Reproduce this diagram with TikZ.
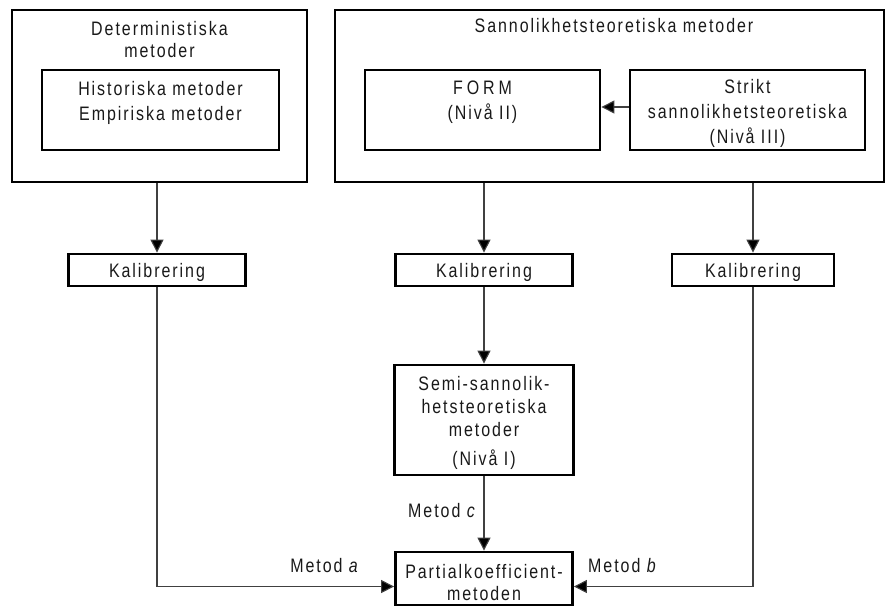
\documentclass[tikz,border=0pt]{standalone}
\usepackage{fontspec}
\setmainfont{Liberation Sans}[FakeStretch=0.82, LetterSpace=10, Ligatures=CommonOff]
\usetikzlibrary{arrows.meta}
\begin{document}
\begin{tikzpicture}[x=1pt,y=-1pt,
  frame/.style={draw=black, line width=2.8pt, inner sep=0pt},
  txt/.style={inner sep=0pt, align=center, text=black!90, font=\fontsize{19.5}{24}\selectfont},
  kal/.style={frame, txt, minimum width=#1, minimum height=32pt, text height=14pt, text depth=0pt},
  conn/.style={line width=1.1pt, draw=black!75, -{Triangle[length=13pt,width=13pt,fill=black]}}
]
\useasboundingbox (0,0) rectangle (888,607);

% left group
\node[frame, minimum width=295pt, minimum height=172pt] (detOuter) at (159.5,96) {};
\node[txt, anchor=north, font=\fontsize{19.5}{22}\selectfont] (detTitle) at (159.5,21) {Deterministiska\\metoder};
\node[frame, minimum width=237pt, minimum height=80pt] (detInner) at (160.5,110) {};
\node[txt, anchor=north, font=\fontsize{19.5}{25}\selectfont] (detText) at (160.5,81) {Historiska metoder\\Empiriska metoder};

% right group
\node[frame, minimum width=549pt, minimum height=172pt] (sanOuter) at (609.5,96) {};
\node[txt, anchor=base] (sanTitle) at (614,33) {Sannolikhetsteoretiska metoder};
\node[frame, minimum width=235pt, minimum height=80pt] (form) at (482.5,110) {};
\node[txt, anchor=north, font=\fontsize{19.5}{25}\selectfont] (formText) at (482.5,81) {{\addfontfeature{LetterSpace=20}FORM}\\(Nivå II)};
\node[frame, minimum width=235pt, minimum height=80pt] (strikt) at (747.5,110) {};
\node[txt, anchor=north, font=\fontsize{19.5}{25}\selectfont] (striktText) at (747.5,79) {Strikt\\sannolikhetsteoretiska\\(Nivå III)};

% calibration
\node[kal=177pt] (kal1) at (157,270) {Kalibrering};
\node[kal=177pt] (kal2) at (484,270) {Kalibrering};
\node[kal=162pt] (kal3) at (753,270) {Kalibrering};

% semi
\node[frame, minimum width=179pt, minimum height=110pt] (semi) at (484,420) {};
\node[txt, anchor=north, font=\fontsize{19.5}{23}\selectfont] (semiText) at (484,376) {Semi-sannolik-\\hetsteoretiska\\metoder\\[6pt](Nivå I)};

% partial
\node[frame, minimum width=177pt, minimum height=53pt] (part) at (484,578.5) {};
\node[txt, anchor=north, font=\fontsize{19.5}{22}\selectfont] (partText) at (484,564) {Partialkoefficient-\\metoden};

% labels
\node[txt, anchor=base east] (metc) at (477,517) {Metod \textit{c}};
\node[txt, anchor=base east] (meta) at (360,572) {Metod \textit{a}};
\node[txt, anchor=base west] (metb) at (588,572) {Metod \textit{b}};

% connectors
\draw[conn] ([yshift=3pt]strikt.west) -- ([yshift=3pt]form.east);
\draw[conn] (detOuter.south -| kal1.north) -- (kal1.north);
\draw[conn] (sanOuter.south -| kal2.north) -- (kal2.north);
\draw[conn] (sanOuter.south -| kal3.north) -- (kal3.north);
\draw[conn] (kal2.south) -- (semi.north);
\draw[conn] (semi.south) -- (part.north);
\draw[conn] (kal1.south) |- ([yshift=-8pt]part.west);
\draw[conn] (kal3.south) |- ([yshift=-8pt]part.east);
\end{tikzpicture}
\end{document}
